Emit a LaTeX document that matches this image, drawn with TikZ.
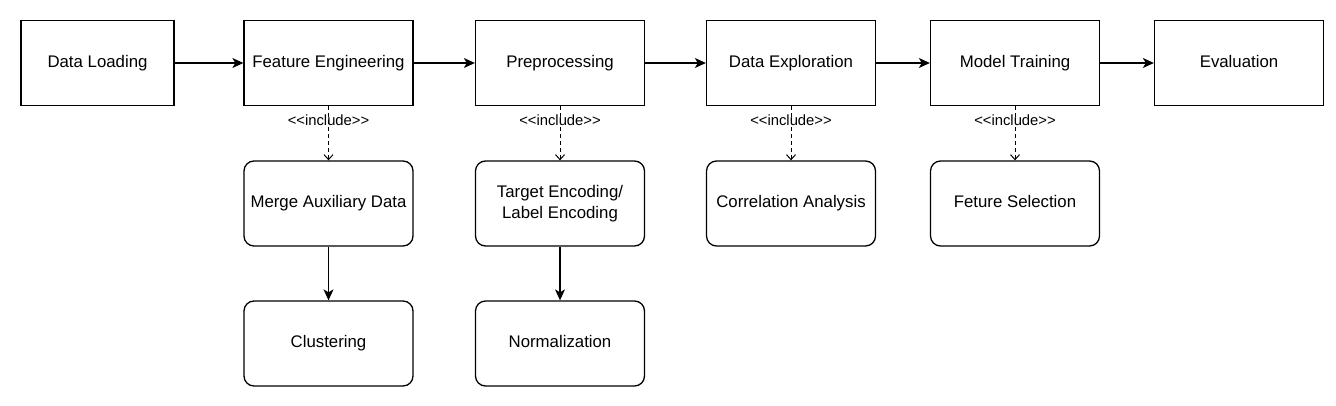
\documentclass[tikz,border=0pt]{standalone}
\usepackage{fontspec}
\setmainfont{Liberation Sans}
\usetikzlibrary{positioning, calc, arrows.meta}

\begin{document}
\begin{tikzpicture}[x=0.5pt,y=-0.5pt,
    box/.style={draw,line width=0.65pt,minimum width=84.5pt,minimum height=42.5pt,inner sep=0pt,align=center,font=\fontsize{8.4}{10.3}\selectfont},
    stage/.style={box,text height=6.2pt,text depth=1.8pt},
    sub/.style={stage,rounded corners=5pt},
    subtwo/.style={box,rounded corners=5pt},
    flow/.style={-{Stealth[length=5.5pt,width=5pt,inset=1.5pt]},line width=0.6pt},
    incl/.style={-{Straight Barb[length=2.5pt,width=4.5pt]},line width=0.5pt,dash pattern=on 2pt off 1.5pt},
    lbl/.style={font=\fontsize{7.4}{9}\selectfont,inner sep=0pt}]
  \useasboundingbox (0,0) rectangle (1336,406);
  % 上段
  \node[stage,minimum width=76.5pt] (load) at (97.5,63) {Data Loading};
  \node[stage] (feat) at (328.5,63) {Feature Engineering};
  \node[stage] (prep) at (560,63) {Preprocessing};
  \node[stage] (explore) at (791,63) {Data Exploration};
  \node[stage] (train) at (1015,63) {Model Training};
  \node[stage] (eval) at (1239,63) {Evaluation};
  % 下段
  \node[sub] (merge) at (328.5,203.5) {Merge Auxiliary Data};
  \node[sub] (cluster) at (328.5,343.5) {Clustering};
  \node[subtwo] (target) at (560,203.5) {Target Encoding/\\Label Encoding};
  \node[sub] (norm) at (560,343.5) {Normalization};
  \node[sub] (corr) at (791,203.5) {Correlation Analysis};
  \node[sub] (select) at (1015,203.5) {Feture Selection};
  \foreach \a/\b in {load/feat,feat/prep,prep/explore,explore/train,train/eval}
    \draw[flow] (\a) -- (\b);
  \draw[flow] (merge) -- (cluster);
  \draw[flow] (target) -- (norm);
  \foreach \a/\b in {feat/merge,prep/target,explore/corr,train/select}
    \draw[incl] (\a) -- node[lbl,pos=0.26] {<\kern0pt<include>\kern0pt>} (\b);%include
\end{tikzpicture}
\end{document}
